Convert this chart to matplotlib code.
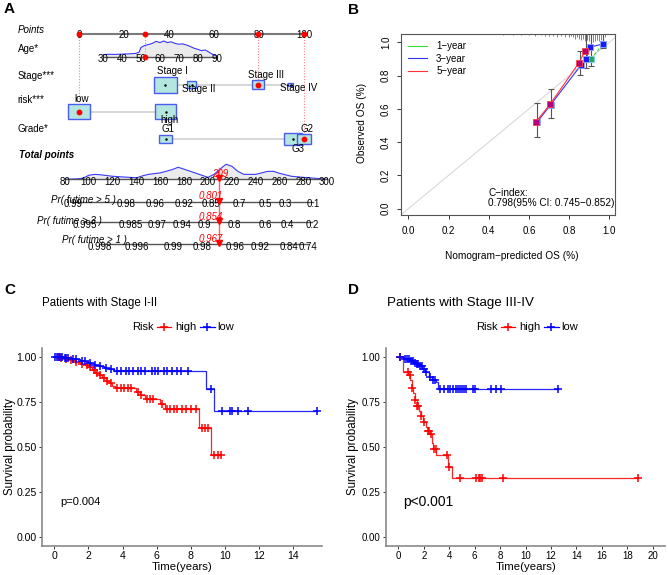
import numpy as np
import matplotlib
matplotlib.use("Agg")
import matplotlib.pyplot as plt
from matplotlib.patches import Rectangle, Polygon
from matplotlib.lines import Line2D

plt.rcParams['font.family'] = ['Liberation Sans', 'DejaVu Sans']

# ===================== DATA =====================
# ---- Panel A: nomogram ----
points_ticks = [0, 20, 40, 60, 80, 100]
age_ticks = [30, 40, 50, 60, 70, 80, 90]
age_points_30 = 10.7
age_points_90 = 61.2
age_grid = [30, 33, 36, 40, 44, 47, 49, 50, 52, 54, 56, 58, 60, 62, 64, 66, 68, 70,
            72, 74, 76, 78, 80, 82, 84, 86, 88, 90]
age_density = [0.15, 0.17, 0.16, 0.18, 0.20, 0.22, 0.30, 0.60, 0.72, 0.78, 0.85, 0.98,
               0.90, 1.00, 0.90, 0.95, 0.85, 0.80, 0.82, 0.75, 0.66, 0.55, 0.48, 0.40,
               0.44, 0.30, 0.15, 0.05]
stage_levels = ["Stage I", "Stage II", "Stage III", "Stage IV"]
stage_points = [38.3, 50.0, 79.5, 94.0]
stage_freq = [100, 15, 30, 6]
risk_levels = ["low", "high"]
risk_points = [0.0, 38.5]
risk_freq = [95, 88]
grade_levels = ["G1", "G2", "G3"]
grade_points = [38.5, 100.0, 95.0]
grade_freq = [30, 32, 60]
total_ticks = [80, 100, 120, 140, 160, 180, 200, 220, 240, 260, 280, 300]
total_grid = [80, 90, 95, 100, 105, 110, 120, 130, 140, 145, 150, 160, 170, 175, 180,
              190, 200, 205, 210, 215, 220, 225, 230, 240, 250, 255, 260, 270, 280, 290, 300]
total_density = [0.0, 0.03, 0.07, 0.27, 0.33, 0.30, 0.20, 0.15, 0.10, 0.23, 0.33, 0.43,
                 0.65, 0.80, 0.67, 0.40, 0.13, 0.33, 0.67, 1.00, 0.87, 0.53, 0.33, 0.33,
                 0.53, 0.53, 0.40, 0.20, 0.13, 0.07, 0.0]
pr5_labels = ["0.99", "0.98", "0.96", "0.92", "0.85", "0.7", "0.5", "0.3", "0.1"]
pr5_total = [87, 131.2, 155.5, 180.1, 202.5, 226, 248.4, 264.6, 288.3]
pr3_labels = ["0.995", "0.985", "0.97", "0.94", "0.9", "0.8", "0.6", "0.4", "0.2"]
pr3_total = [96.8, 135.4, 156.9, 178.4, 196.9, 222.0, 247.8, 266.5, 287.5]
pr1_labels = ["0.998", "0.996", "0.99", "0.98", "0.96", "0.92", "0.84", "0.74"]
pr1_total = [109.4, 140.2, 170.9, 194.7, 222.6, 243.6, 268.2, 284.1]
patient_age = 52
patient_stage = "Stage III"
patient_risk = "low"
patient_grade = "G2"
patient_pr = ["0.801", "0.854", "0.967"]

# ---- Panel B: calibration ----
cal1_pred = [0.909, 0.966]
cal1_obs = [0.900, 0.988]
cal3_pred = [0.640, 0.708, 0.858, 0.883, 0.906, 0.966]
cal3_obs = [0.520, 0.625, 0.862, 0.900, 0.972, 0.990]
cal5_pred = [0.636, 0.705, 0.848, 0.878]
cal5_obs = [0.524, 0.628, 0.876, 0.946]
err_pred = [0.640, 0.708, 0.852, 0.882, 0.908, 0.966]
err_lo = [0.430, 0.545, 0.805, 0.845, 0.860, 0.965]
err_hi = [0.637, 0.722, 0.950, 1.060, 1.060, 1.060]
rug_pred = [0.47, 0.52, 0.56, 0.60, 0.63, 0.66, 0.68, 0.70, 0.72, 0.74, 0.76, 0.78,
            0.80, 0.81, 0.82, 0.83, 0.84, 0.85, 0.86, 0.87, 0.88, 0.89, 0.90, 0.91,
            0.92, 0.93, 0.94, 0.95, 0.96, 0.97, 0.98]
rug_count = [1, 1, 1, 1, 2, 1, 2, 2, 2, 3, 2, 3, 3, 2, 3, 4, 3, 4, 5, 4, 6, 5, 6, 5,
             7, 6, 5, 6, 5, 4, 3]
cindex_text = "C\u2212index:\n0.798(95% CI: 0.745\u22120.852)"

# ---- Panel C: Stage I-II KM ----
c_high_t = [0.3, 0.6, 0.9, 1.2, 1.5, 1.8, 2.0, 2.2, 2.4, 2.6, 2.8, 3.0, 3.2, 3.4, 3.55,
            4.8, 5.0, 5.3, 6.2, 6.5, 8.5, 9.16]
c_high_s = [0.995, 0.99, 0.985, 0.975, 0.965, 0.955, 0.945, 0.93, 0.915, 0.90, 0.885,
            0.87, 0.855, 0.84, 0.828, 0.81, 0.79, 0.77, 0.74, 0.711, 0.607, 0.458]
c_high_cens = [0.2, 0.4, 0.7, 1.0, 1.3, 1.6, 1.9, 2.1, 2.3, 2.5, 2.7, 2.9, 3.1, 3.3,
               3.7, 3.9, 4.1, 4.3, 4.5, 4.9, 5.1, 5.4, 5.6, 5.8, 6.3, 6.6, 6.8, 7.0,
               7.2, 7.46, 7.72, 7.99, 8.3, 8.63, 8.83, 9.02, 9.37, 9.57, 9.77]
c_low_t = [0.5, 1.0, 1.5, 2.0, 2.3, 2.6, 2.9, 3.2, 3.5, 8.89, 9.36]
c_low_s = [0.995, 0.99, 0.98, 0.97, 0.96, 0.95, 0.94, 0.933, 0.926, 0.822, 0.703]
c_low_cens = [0.05, 0.15, 0.25, 0.35, 0.45, 0.6, 0.7, 0.8, 1.1, 1.3, 1.6, 1.8, 2.1,
              2.4, 2.7, 3.0, 3.3, 3.7, 3.9, 4.2, 4.4, 4.6, 4.9, 5.1, 5.3, 5.7, 5.9,
              6.1, 6.4, 6.6, 6.9, 7.2, 7.4, 7.85, 9.16, 9.8, 10.29, 10.39, 10.78,
              11.33, 15.41]
c_pvalue = "p=0.004"

# ---- Panel D: Stage III-IV KM ----
d_high_t = [0.35, 0.8, 0.95, 1.05, 1.15, 1.3, 1.45, 1.6, 1.75, 1.95, 2.15, 2.3, 2.5,
            2.65, 2.75, 3.0, 3.93, 4.25]
d_high_s = [0.92, 0.90, 0.875, 0.83, 0.80, 0.76, 0.73, 0.70, 0.67, 0.64, 0.61, 0.59,
            0.57, 0.52, 0.49, 0.455, 0.39, 0.325]
d_high_cens = [0.1, 0.75, 0.9, 1.1, 1.35, 1.5, 1.57, 1.76, 2.05, 2.35, 2.44, 2.55,
               2.84, 2.95, 3.85, 4.0, 4.85, 6.1, 6.35, 6.45, 6.55, 8.2, 18.85]
d_low_t = [0.45, 0.95, 1.2, 1.4, 1.65, 1.9, 2.1, 2.4, 2.65, 2.95, 3.1]
d_low_s = [0.99, 0.98, 0.97, 0.96, 0.95, 0.935, 0.92, 0.89, 0.875, 0.86, 0.825]
d_low_cens = [0.13, 0.55, 0.7, 0.85, 1.0, 1.15, 1.3, 1.45, 1.55, 1.7, 1.85, 2.0, 2.2,
              2.5, 2.7, 2.9, 3.3, 3.6, 3.9, 4.1, 4.3, 4.5, 4.7, 4.85, 5.0, 5.15, 5.3,
              5.9, 6.0, 7.3, 7.65, 8.05, 12.55]
d_pvalue = "p<0.001"

# ===================== FIGURE =====================
W, H = 668, 575
fig = plt.figure(figsize=(W / 100, H / 100), dpi=100)
fig.patch.set_facecolor('white')


def axes_px(l, t, r, b):
    return fig.add_axes([l / W, 1 - b / H, (r - l) / W, (b - t) / H])


def ftext(px, py, s, **kw):
    fig.text(px / W, 1 - py / H, s, **kw)


# ---------------- Panel A ----------------
axA = axes_px(0, 0, 340, 290)
PT0, PXPT = 79.0, 2.25
axA.set_xlim(-PT0 / PXPT, (340 - PT0) / PXPT)
axA.set_ylim(290, 0)
axA.axis('off')


def px2pt(px):
    return (px - PT0) / PXPT


def tot2x(tp):
    return px2pt(65 + (tp - 80) * 1.192)


def age2x(a):
    return age_points_30 + (a - 30) * (age_points_90 - age_points_30) / 60.0


FS = 7
Y_POINTS, Y_AGE, Y_STAGE, Y_RISK, Y_GRADE = 33.5, 57.0, 84.5, 111.5, 139.0
Y_TOTAL = 179.3
Y_PR = [201.7, 222.3, 244.3]
LX = px2pt(17.5)

axA.text(LX, 30, "Points", fontsize=FS, style='italic', va='center')
axA.text(LX, 49, "Age*", fontsize=FS, va='center')
axA.text(LX, 76, "Stage***", fontsize=FS, va='center')
axA.text(LX, 100, "risk***", fontsize=FS, va='center')
axA.text(LX, 129, "Grade*", fontsize=FS, va='center')
axA.text(px2pt(19), 155, "Total points", fontsize=FS, style='italic',
         weight='bold', va='center')

# points axis
axA.plot([points_ticks[0], points_ticks[-1]], [Y_POINTS] * 2, color='#7a7a7a', lw=1.5, zorder=2)
for p in points_ticks:
    axA.text(p, Y_POINTS + 1.8, str(p), fontsize=FS, ha='center', va='center', zorder=3)

# age axis + density
ax_age = [age2x(a) for a in age_grid]
dens_y = [Y_AGE - 16 * d for d in age_density]
poly = [(ax_age[0], Y_AGE)] + list(zip(ax_age, dens_y)) + [(ax_age[-1], Y_AGE)]
axA.add_patch(Polygon(poly, closed=True, facecolor='#ebebeb', edgecolor='none', zorder=1))
axA.plot(ax_age, dens_y, color='#3a3aff', lw=0.8, zorder=2)
axA.plot([age2x(age_ticks[0]), age2x(age_ticks[-1])], [Y_AGE] * 2, color='#555555', lw=1, zorder=2)
for a in age_ticks:
    axA.text(age2x(a), Y_AGE + 2, str(a), fontsize=FS, ha='center', va='center', zorder=3)

# categorical rows
box_face, box_edge = '#b2e6de', '#4d5cf0'
label_dx = {"Stage I": 7.5, "Stage II": 7, "Stage III": 7.7, "Stage IV": 8.5,
            "low": 2.7, "high": 4, "G1": 2.3, "G2": 2.7, "G3": 5}
label_dy = {"Stage I": -13, "Stage II": 4.5, "Stage III": -9, "Stage IV": 3.5,
            "low": -12, "high": 8.5, "G1": -10, "G2": -9.7, "G3": 9.5}


def cat_row(levels, pts, freq, y):
    axA.plot([min(pts), max(pts)], [y, y], color='#d0d0d0', lw=1.2, zorder=1)
    order = np.argsort(freq)[::-1]
    for i in order:
        w = 2.3 * np.sqrt(freq[i]) / PXPT
        h = 1.6 * np.sqrt(freq[i])
        axA.add_patch(Rectangle((pts[i] - w / 2, y - h / 2), w, h, facecolor=box_face,
                                edgecolor=box_edge, lw=1.0, zorder=2))
        axA.plot(pts[i], y, '.', color='black', ms=1.5, zorder=3)
    for i, lev in enumerate(levels):
        axA.text(pts[i] + label_dx[lev] / PXPT, y + label_dy[lev], lev, fontsize=FS,
                 ha='center', va='center', zorder=4)


cat_row(stage_levels, stage_points, stage_freq, Y_STAGE)
cat_row(risk_levels, risk_points, risk_freq, Y_RISK)
cat_row(grade_levels, grade_points, grade_freq, Y_GRADE)

# patient overlay
p_age = age2x(patient_age)
p_stage = stage_points[stage_levels.index(patient_stage)]
p_risk = risk_points[risk_levels.index(patient_risk)]
p_grade = grade_points[grade_levels.index(patient_grade)]
for xv, yv in [(p_age, Y_AGE), (p_stage, Y_STAGE), (p_risk, Y_RISK), (p_grade, Y_GRADE)]:
    axA.plot([xv, xv], [Y_POINTS, yv], color='#ff8080', ls=(0, (1, 1.5)), lw=0.8, zorder=1)
    axA.plot(xv, Y_POINTS, 'o', color='red', ms=3.2, zorder=5)
    axA.plot(xv, yv, 'o', color='red', ms=3.2, zorder=5)
patient_total = round(p_age + p_stage + p_risk + p_grade)

# total points axis + density
tx = [tot2x(t) for t in total_grid]
ty = [Y_TOTAL - 15 * d for d in total_density]
poly = [(tx[0], Y_TOTAL)] + list(zip(tx, ty)) + [(tx[-1], Y_TOTAL)]
axA.add_patch(Polygon(poly, closed=True, facecolor='#ebebeb', edgecolor='none', zorder=1))
axA.plot(tx, ty, color='#3a3aff', lw=0.8, zorder=2)
axA.plot([tot2x(total_ticks[0]), tot2x(total_ticks[-1])], [Y_TOTAL] * 2, color='#555555', lw=1, zorder=2)
for t in total_ticks:
    axA.text(tot2x(t), Y_TOTAL + 2.4, str(t), fontsize=FS, ha='center', va='center', zorder=3)

# probability axes
pr_names = ["Pr( futime > 5 )", "Pr( futime > 3 )", "Pr( futime > 1 )"]
pr_label_px = [50.7, 36.7, 61.7]
pr_label_y = [200, 221, 240]
for k, (labs, tots) in enumerate([(pr5_labels, pr5_total), (pr3_labels, pr3_total),
                                   (pr1_labels, pr1_total)]):
    y = Y_PR[k]
    axA.plot([tot2x(tots[0]), tot2x(tots[-1])], [y, y], color='#555555', lw=1, zorder=2)
    for lab, t in zip(labs, tots):
        axA.text(tot2x(t), y + 2.4, lab, fontsize=FS, ha='center', va='center', zorder=3)
    axA.text(px2pt(pr_label_px[k]), pr_label_y[k], pr_names[k], fontsize=FS,
             style='italic', ha='left', va='center', zorder=3)

xp = tot2x(patient_total)
axA.plot([xp, xp], [Y_TOTAL - 11, Y_PR[2]], color='#ff6060', lw=1.0, zorder=4)
for y in [Y_TOTAL] + Y_PR:
    axA.plot(xp, y - 1, 'v', color='red', ms=4, zorder=6)
axA.text(xp + 0.5, Y_TOTAL - 5, str(patient_total), color='red', fontsize=FS,
         style='italic', ha='center', va='center', zorder=6)
for k, s in enumerate(patient_pr):
    axA.text(xp - 3.6, Y_PR[k] - 5.5, s, color='red', fontsize=FS, style='italic',
             ha='center', va='center', zorder=6)

# ---------------- Panel B ----------------
axB = axes_px(400.7, 34, 615, 215)
axB.set_xlim(-0.0378, 1.028)
axB.set_ylim(-0.0379, 1.0505)
axB.axline((0, 0), (1, 1), color='#d9d9d9', lw=0.8, zorder=1)
axB.vlines(rug_pred, 1.0505 - 0.007 * np.array(rug_count), 1.0505, color='#555555', lw=0.5)
axB.errorbar(err_pred, [(l + h) / 2 for l, h in zip(err_lo, err_hi)],
             yerr=[(h - l) / 2 for l, h in zip(err_lo, err_hi)], fmt='none',
             ecolor='#555555', elinewidth=0.8, capsize=2.2, capthick=0.8, zorder=2)
axB.plot(cal1_pred, cal1_obs, color='#33dd33', lw=0.8, ls=(0, (3, 1.5)), zorder=3)
axB.plot(cal3_pred, cal3_obs, color='#3333ff', lw=0.8, zorder=3)
axB.plot(cal5_pred, cal5_obs, color='#ff3333', lw=0.8, zorder=3)
axB.plot(cal1_pred, cal1_obs, 's', color='#22aa55', mec='#88ccff', ms=4, mew=0.6, ls='none', zorder=4)
axB.plot(cal3_pred, cal3_obs, 's', color='#1a1aff', mec='#8fa8ff', ms=4, mew=0.6, ls='none', zorder=4)
axB.plot(cal5_pred, cal5_obs, 's', color='#b0007a', mec='#ff4040', ms=4, mew=0.6, ls='none', zorder=5)
leg_handles = [Line2D([], [], color='#33dd33', lw=0.8), Line2D([], [], color='#3333ff', lw=0.8),
               Line2D([], [], color='#ff3333', lw=0.8)]
axB.legend(leg_handles, ["1\u2212year", "3\u2212year", "5\u2212year"], loc='upper left',
           frameon=False, fontsize=7, handlelength=2.0, handletextpad=0.9,
           labelspacing=0.25, borderaxespad=0.35)
axB.text(0.397, 0.064, cindex_text, fontsize=7.2, ha='left', va='center', linespacing=1.05)
ticks = [0.0, 0.2, 0.4, 0.6, 0.8, 1.0]
axB.set_xticks(ticks, [f"{t:.1f}" for t in ticks])
axB.set_yticks(ticks, [f"{t:.1f}" for t in ticks])
axB.tick_params(axis='both', direction='out', length=3.0, width=0.7, labelsize=7,
                colors='#333333', labelcolor='black')
axB.tick_params(axis='x', pad=5)
axB.tick_params(axis='y', pad=4)
for lab in axB.get_yticklabels():
    lab.set_rotation(90)
    lab.set_va('center')
for sp in axB.spines.values():
    sp.set_color('#555555')
    sp.set_linewidth(0.8)
ftext(512, 256, "Nomogram\u2212predicted OS (%)", fontsize=7.3, ha='center', va='center')
ftext(362, 123, "Observed OS (%)", fontsize=7.3, ha='center', va='center', rotation=90)


# ---------------- Panels C & D ----------------
def km(ax, t_ev, s_ev, cens, color):
    t_end = max(max(cens), t_ev[-1])
    tt = [0.0] + list(t_ev) + [t_end]
    ss = [1.0] + list(s_ev) + [s_ev[-1]]
    ax.step(tt, ss, where='post', color=color, lw=0.9, alpha=0.85, zorder=2)
    idx = np.searchsorted(np.array(t_ev), np.array(cens), side='right')
    sv = [1.0 if i == 0 else s_ev[i - 1] for i in idx]
    ax.plot(cens, sv, '+', color=color, ms=5.5, mew=1.1, ls='none', zorder=3)


def style_km(ax, xt, tick_fs):
    ax.set_ylim(-0.05, 1.05)
    ax.set_yticks([0, 0.25, 0.5, 0.75, 1.0], ["0.00", "0.25", "0.50", "0.75", "1.00"])
    ax.set_xticks(xt, [str(v) for v in xt])
    for s in ['top', 'right']:
        ax.spines[s].set_visible(False)
    for s in ['left', 'bottom']:
        ax.spines[s].set_color('#8a8a8a')
        ax.spines[s].set_linewidth(1.2)
    ax.tick_params(direction='out', length=2.2, width=0.7, pad=1.5, labelsize=tick_fs,
                   colors='#333333', labelcolor='black')


axC = axes_px(42, 348.3, 321.7, 546.3)
axC.set_xlim(-0.72, 15.66)
km(axC, c_high_t, c_high_s, c_high_cens, '#ff0000')
km(axC, c_low_t, c_low_s, c_low_cens, '#0000ff')
style_km(axC, [0, 2, 4, 6, 8, 10, 12, 14], 7.6)
axC.text(0.33, 0.196, c_pvalue, fontsize=8, ha='left', va='center')

axD = axes_px(385.6, 348.3, 665.4, 545.7)
axD.set_xlim(-1, 21)
km(axD, d_high_t, d_high_s, d_high_cens, '#ff0000')
km(axD, d_low_t, d_low_s, d_low_cens, '#0000ff')
style_km(axD, [0, 2, 4, 6, 8, 10, 12, 14, 16, 18, 20], 7.0)
axD.text(0.39, 0.195, d_pvalue, fontsize=10, ha='left', va='center')

# titles / labels
ftext(41.7, 303, "Patients with Stage I-II", fontsize=8.3, ha='left', va='center')
ftext(386.7, 303, "Patients with Stage III-IV", fontsize=9.6, ha='left', va='center')
ftext(10, 447, "Survival probability", fontsize=8.3, rotation=90, ha='center', va='center')
ftext(353.3, 447, "Survival probability", fontsize=8.3, rotation=90, ha='center', va='center')
ftext(182, 567, "Time(years)", fontsize=8.2, ha='center', va='center')
ftext(526, 567, "Time(years)", fontsize=8.2, ha='center', va='center')


def km_legend(x0):
    y = 327
    ftext(x0, y, "Risk", fontsize=8, ha='left', va='center')
    for (a, b, c), col, lab in [((156.5, 171, 175), '#ff0000', "high"),
                                ((200, 214.5, 217.5), '#0000ff', "low")]:
        fig.add_artist(Line2D([(x0 - 131.7 + a) / W, (x0 - 131.7 + b) / W],
                              [1 - y / H] * 2, color=col, lw=0.9))
        fig.add_artist(Line2D([(x0 - 131.7 + (a + b) / 2) / W], [1 - y / H], marker='+',
                              color=col, ms=5.5, mew=1.1))
        ftext(x0 - 131.7 + c, y, lab, fontsize=8, ha='left', va='center')


km_legend(131.7)
km_legend(475.7)

# panel letters
for s, x, y in [("A", 4, 9), ("B", 348, 10), ("C", 4, 290), ("D", 348, 290)]:
    ftext(x, y, s, fontsize=11, weight='bold', ha='left', va='center')

fig.savefig("out.png", dpi=100, facecolor='white')
